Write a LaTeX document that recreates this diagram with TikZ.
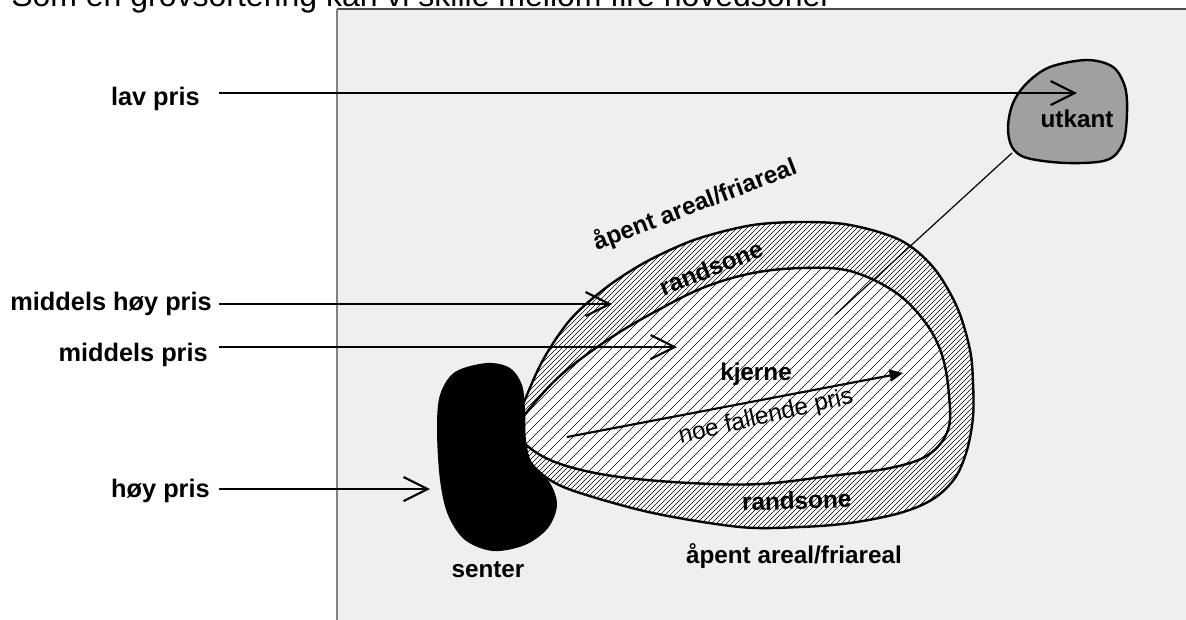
\documentclass[tikz,border=0pt]{standalone}
\usepackage{fontspec}
\setmainfont{Liberation Sans}
\usetikzlibrary{arrows.meta}
\definecolor{panel}{HTML}{EFEFEF}
\definecolor{utk}{HTML}{A0A0A0}
\newcommand\outerShape{plot[smooth cycle, tension=0.55] coordinates {
  (524,402) (543,360) (570,320) (603,290) (637,267) (670,250) (703,237) (753,225)
  (803,222) (850,225) (900,240) (933,267) (957,307) (970,350) (973,383) (973,417)
  (967,450) (955,478) (933,499) (900,513) (850,523) (800,527) (740,527) (653,513)
  (580,493) (550,480) (530,462) (512,432)}}
\newcommand\innerShape{plot[smooth cycle, tension=0.6] coordinates {
  (527,412) (562,374) (612,337) (660,309) (705,287) (753,273) (803,268)
  (850,271) (895,292) (925,322) (942,355) (949,395) (948,430)
  (928,455) (890,468) (830,476) (760,484) (690,483) (620,477) (570,467)
  (537,453) (516,432)}}
\begin{document}
\begin{tikzpicture}[x=0.75pt,y=-0.75pt,
  lab/.style={font=\fontsize{19}{22}\selectfont\bfseries, inner sep=0pt},
  zlab/.style={font=\fontsize{18.2}{21}\selectfont\bfseries, inner sep=0pt},
  ptr/.style={line width=1.6pt, -{Straight Barb[length=18pt,width=18pt,line width=1.6pt]}},
  blob/.style={line width=1.8pt},
  hatch/.style={line width=0.5pt},
]
\useasboundingbox (0,0) rectangle (1186,619);
% panel
\fill[panel] (337,9) rectangle (1192,625);
\draw[line width=1pt, gray!60!black] (337,9) -- (1192,9);
\draw[line width=1pt, gray] (337,9) -- (337,625);
\node[anchor=base west, inner sep=0pt, font=\fontsize{24}{28}\selectfont] (title) at (11,6) {Som en grovsortering kan vi skille mellom fire hovedsoner};

% outer zone (randsone): white fill and dense hatching
\fill[white] \outerShape;
\begin{scope}
  \clip \outerShape;
  \foreach \c in {700,705,...,1520} \draw[hatch] (\c-545,545) -- (\c-210,210);
\end{scope}
% inner zone (kjerne): white fill and sparse hatching
\fill[white] \innerShape;
\begin{scope}
  \clip \innerShape;
  \foreach \c in {700,710,...,1520} \draw[hatch] (\c-545,545) -- (\c-210,210);
\end{scope}
\draw[blob] \outerShape;
\draw[blob] \innerShape;

% senter
\fill[black] plot[smooth cycle, tension=0.55] coordinates {
  (487,363) (510,368) (522,385) (525,410) (526,440) (532,463) (550,483) (557,505)
  (548,528) (525,545) (493,551) (465,540) (448,515) (440,480) (437,430) (440,395)
  (455,372)};
% utkant
\draw[blob, fill=utk] plot[smooth cycle, tension=0.55] coordinates {
  (1087,60) (1113,67) (1125,87) (1127,113) (1123,143) (1107,160) (1067,163)
  (1027,158) (1012,147) (1008,127) (1013,103) (1027,83) (1050,67)};

% left labels
\node[lab, anchor=base east] (lav) at (200,105) {lav pris};
\node[lab, anchor=base east] (mhoy) at (212,310) {middels høy pris};
\node[lab, anchor=base east] (mid) at (208,361) {middels pris};
\node[lab, anchor=base east] (hoy) at (210,497) {høy pris};

\coordinate (lavS) at (219,93);   \coordinate (lavT) at (1077,93);
\coordinate (mhoyS) at (219,304); \coordinate (mhoyT) at (612,304);
\coordinate (midS) at (219,347);  \coordinate (midT) at (677,347);
\coordinate (hoyS) at (219,489);  \coordinate (hoyT) at (430,489);
\draw[ptr] (lavS) -- (lavT);
\draw[ptr] (mhoyS) -- (mhoyT);
\draw[ptr] (midS) -- (midT);
\draw[ptr] (hoyS) -- (hoyT);

% utkant connector line
\coordinate (utkA) at (1012,153);
\coordinate (utkB) at (835,315);
\draw[line width=0.9pt] (utkA) -- (utkB);

% falling price arrow
\coordinate (fallS) at (567,437);
\coordinate (fallT) at (903,373);
\draw[line width=1.6pt, -{Triangle[length=10pt,width=9pt]}] (fallS) -- (fallT);

% zone labels
\node[zlab, rotate=21] (apenTop) at (695,205) {åpent areal/friareal};
\node[zlab, rotate=22] (randTop) at (711,268) {randsone};
\node[zlab, anchor=base, rotate=2] (randBot) at (797,509) {randsone};
\node[zlab, anchor=base] (kjerne) at (756,380) {kjerne};
\node[font=\fontsize{18.2}{21}\selectfont, inner sep=0pt, rotate=13] (fall) at (766,417) {noe fallende pris};
\node[zlab, anchor=base] (utkant) at (1077,127) {utkant};
\node[zlab, anchor=base] (senter) at (488,577) {senter};
\node[zlab, anchor=base] (apenBot) at (794,563) {åpent areal/friareal};
\end{tikzpicture}
\end{document}
